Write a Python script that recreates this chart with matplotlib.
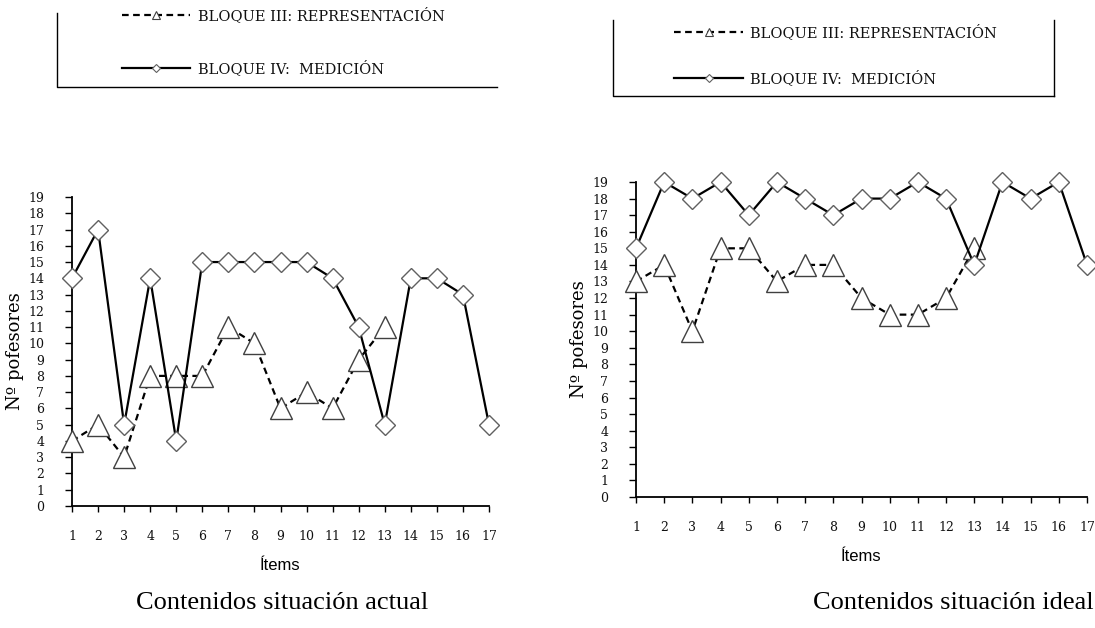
import numpy as np
import matplotlib
matplotlib.use('Agg')
import matplotlib.pyplot as plt

# datos
items = list(range(1, 18))
actual_bloque3 = [4, 5, 3, 8, 8, 8, 11, 10, 6, 7, 6, 9, 11]
actual_bloque4 = [14, 17, 5, 14, 4, 15, 15, 15, 15, 15, 14, 11, 5, 14, 14, 13, 5]
ideal_bloque3 = [13, 14, 10, 15, 15, 13, 14, 14, 12, 11, 11, 12, 15]
ideal_bloque4 = [15, 19, 18, 19, 17, 19, 18, 17, 18, 18, 19, 18, 14, 19, 18, 19, 14]
y_ticks = list(range(0, 20))

label3 = 'BLOQUE III: REPRESENTACIÓN'
label4 = 'BLOQUE IV:  MEDICIÓN'
ylabel = 'Nº pofesores'
xlabel = 'Ítems'
titulos = ['Contenidos situación actual', 'Contenidos situación ideal']

W, H = 1095, 628
serif = ['Liberation Serif', 'DejaVu Serif']
ancha = ['DejaVu Serif']
narrow = ['Liberation Sans Narrow', 'Liberation Sans', 'DejaVu Sans']

fig = plt.figure(figsize=(W / 100, H / 100), dpi=100)


def px_axes(x0, x1, ytop, ybot):
    return fig.add_axes([x0 / W, (H - ybot) / H, (x1 - x0) / W, (ybot - ytop) / H])


def dibujar(ax, s3, s4):
    x3 = items[:len(s3)]
    ax.plot(x3, s3, color='black', lw=1.6, ls=(0, (3, 2)), marker='^', ms=16,
            mfc='white', mec='#404040', mew=1.0, clip_on=False, zorder=3)
    ax.plot(items, s4, color='black', lw=1.6, ls='-', marker='D', ms=10,
            mfc='white', mec='#606060', mew=1.0, clip_on=False, zorder=4)
    ax.set_xlim(1, 17)
    ax.set_ylim(0, 19)
    ax.set_xticks(items)
    ax.set_yticks(y_ticks)
    for s in ['top', 'right']:
        ax.spines[s].set_visible(False)
    for s in ['left', 'bottom']:
        ax.spines[s].set_linewidth(1.3)
    ax.tick_params(axis='y', direction='out', length=5, width=1, pad=15)
    ax.tick_params(axis='x', direction='out', length=4, width=1, pad=13)
    for t in ax.get_xticklabels() + ax.get_yticklabels():
        t.set_family(ancha)
        t.set_fontsize(9)
        t.set_color('#111111')
    ax.set_ylabel(ylabel, family=ancha, fontsize=13, labelpad=3)
    ax.set_xlabel(xlabel, family=narrow, fontsize=12, labelpad=11)


ax1 = px_axes(72, 489, 197, 506)
dibujar(ax1, actual_bloque3, actual_bloque4)
ax2 = px_axes(636, 1087, 182, 497)
dibujar(ax2, ideal_bloque3, ideal_bloque4)

# capa para la leyenda y los titulos, en pixeles
ov = fig.add_axes([0, 0, 1, 1], zorder=-1)
ov.set_xlim(0, W)
ov.set_ylim(H, 0)
ov.axis('off')

cajas = [
    dict(x0=57, x1=497, ytop=13, ybot=87, right=False, r1=15, r2=68, lx=(122, 190), tx=198),
    dict(x0=613, x1=1054, ytop=20, ybot=96, right=True, r1=32, r2=78, lx=(674, 743), tx=750),
]
for c in cajas:
    ov.plot([c['x0'], c['x0'], c['x1']], [c['ytop'], c['ybot'], c['ybot']], color='black', lw=1)
    if c['right']:
        ov.plot([c['x1'], c['x1']], [c['ytop'], c['ybot']], color='black', lw=1)
    xa, xb = c['lx']
    xm = (xa + xb) / 2
    ov.plot([xa, xb], [c['r1'], c['r1']], color='black', lw=1.6, ls=(0, (3, 2)))
    ov.plot([xm], [c['r1']], marker='^', ms=6, mfc='white', mec='#404040', mew=0.8)
    ov.plot([xa, xb], [c['r2'], c['r2']], color='black', lw=1.6)
    ov.plot([xm], [c['r2']], marker='D', ms=4, mfc='white', mec='#606060', mew=0.8)
    ov.text(c['tx'], c['r1'], label3, family=ancha, fontsize=10.5, va='center', ha='left', color='#111111')
    ov.text(c['tx'], c['r2'], label4, family=ancha, fontsize=10.5, va='center', ha='left', color='#111111')

ov.text(282, 603, titulos[0], family=serif, fontsize=19, ha='center', va='center')
ov.text(813, 603, titulos[1], family=serif, fontsize=19, ha='left', va='center')

plt.savefig('out.png', dpi=100)
